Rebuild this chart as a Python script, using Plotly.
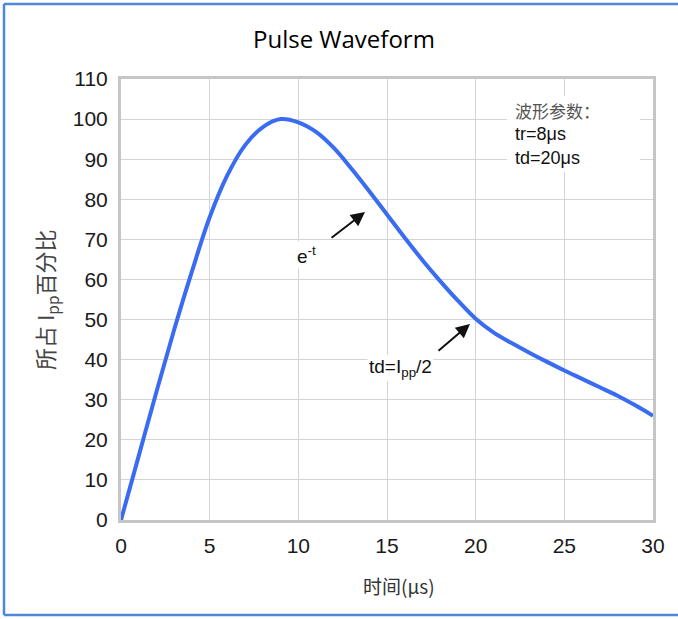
import plotly.graph_objects as go

# ---- data ----
time_us = [0, 1, 2, 3, 4, 5, 6, 7, 8, 9, 10, 11, 12, 13, 14, 15, 16, 17, 18, 19,
           20, 21, 22, 23, 24, 25, 26, 27, 28, 29, 30]
percent_ipp = [0, 16, 32, 47.5, 62, 75.5, 86, 93.5, 98, 100, 99.2, 96.8, 92.8, 87.6, 82, 76.2,
               70.4, 64.8, 59.6, 54.7, 50.2, 46.8, 44.2, 41.8, 39.5, 37.3, 35.2, 33.1, 31, 28.6, 26]
x_ticks = [0, 5, 10, 15, 20, 25, 30]
y_ticks = list(range(0, 111, 10))

title_text = "Pulse Waveform"
x_title = "时间(μs)"
y_title = "所占 I<sub>pp</sub>百分比"
param_lines = ["波形参数：", "tr=8μs", "td=20μs"]

W, H = 678, 619
L, R, T, B = 121, 653, 79, 520  # plot area in pixels


def px(x):
    return (x - L) / (R - L)


def py(y):
    return (B - y) / (B - T)


fig = go.Figure()
fig.add_trace(go.Scatter(
    x=time_us, y=percent_ipp, mode="lines",
    line=dict(color="#3a6cf2", width=4, shape="spline", smoothing=1.0),
    hoverinfo="skip", showlegend=False, cliponaxis=False,
))

axis_common = dict(
    showline=True, linecolor="#c6c6c6", linewidth=3, mirror=True,
    showgrid=True, gridcolor="#d4d4d4", gridwidth=1,
    zeroline=False, ticks="", tickfont=dict(family="Liberation Sans, Arial", size=21, color="#1a1a1a"),
)

fig.update_xaxes(range=[0, 30], tickvals=x_ticks, ticklabelstandoff=5, **axis_common)
fig.update_yaxes(range=[0, 110], tickvals=y_ticks, ticklabelstandoff=6, **axis_common)

annotations = []
# title
annotations.append(dict(text=title_text, xref="paper", yref="paper", x=px(344), y=py(38),
                        showarrow=False, xanchor="center", yanchor="middle",
                        font=dict(family="Open Sans", size=24, color="#000000")))
# axis titles
annotations.append(dict(text=x_title, xref="paper", yref="paper", x=px(399), y=py(585),
                        showarrow=False, xanchor="center", yanchor="middle",
                        font=dict(family="Noto Sans CJK SC, Liberation Sans", size=19, color="#333333")))
annotations.append(dict(text=y_title, xref="paper", yref="paper", x=px(45), y=py(300),
                        showarrow=False, xanchor="center", yanchor="middle", textangle=-90,
                        font=dict(family="Noto Sans CJK SC, Liberation Sans", size=22, color="#444444")))
# parameter box lines
param_y = [110, 134, 158]
param_colors = ["#555555", "#111111", "#111111"]
param_fonts = ["Noto Sans CJK SC", "Liberation Sans, Arial", "Liberation Sans, Arial"]
param_sizes = [17, 18, 18]
for txt, yy, cc, ff, ss in zip(param_lines, param_y, param_colors, param_fonts, param_sizes):
    annotations.append(dict(text=txt, xref="paper", yref="paper", x=px(513), y=py(yy),
                            showarrow=False, xanchor="left", yanchor="middle",
                            font=dict(family=ff, size=ss, color=cc)))
# arrows
annotations.append(dict(text="", x=13.76, y=76.8, ax=11.79, ay=70.1, xref="x", yref="y",
                        axref="x", ayref="y", showarrow=True, arrowhead=2, arrowsize=1.4,
                        arrowwidth=2, arrowcolor="#111111"))
annotations.append(dict(text="", x=19.68, y=48.9, ax=17.82, ay=41.9, xref="x", yref="y",
                        axref="x", ayref="y", showarrow=True, arrowhead=2, arrowsize=1.4,
                        arrowwidth=2, arrowcolor="#111111"))
# arrow labels
annotations.append(dict(text="e<sup>-t</sup>", xref="paper", yref="paper", x=px(306), y=py(255),
                        showarrow=False, xanchor="center", yanchor="middle", bgcolor="white",
                        font=dict(family="Liberation Sans, Arial", size=19, color="#111111")))
annotations.append(dict(text="td=I<sub>pp</sub>/2", xref="paper", yref="paper", x=px(400), y=py(368),
                        showarrow=False, xanchor="center", yanchor="middle", bgcolor="white",
                        font=dict(family="Liberation Sans, Arial", size=19, color="#111111")))

shapes = [
    # white box behind the parameter text (hides gridlines)
    dict(type="rect", xref="paper", yref="paper", x0=px(507), x1=px(640), y0=py(172), y1=py(96),
         fillcolor="white", line=dict(width=0), layer="above"),
    # blue frame (top, left, bottom)
    dict(type="line", xref="paper", yref="paper", x0=px(4), x1=px(680), y0=py(4), y1=py(4),
         line=dict(color="#4f88d8", width=2.5)),
    dict(type="line", xref="paper", yref="paper", x0=px(4), x1=px(4), y0=py(4), y1=py(615),
         line=dict(color="#4f88d8", width=2.5)),
    dict(type="line", xref="paper", yref="paper", x0=px(4), x1=px(680), y0=py(615), y1=py(615),
         line=dict(color="#4f88d8", width=2.5)),
]

fig.update_layout(
    width=W, height=H,
    margin=dict(l=L, r=W - R, t=T, b=H - B, pad=0),
    paper_bgcolor="white", plot_bgcolor="white",
    showlegend=False,
    annotations=annotations, shapes=shapes,
)

fig.write_html("out.html", config={"displayModeBar": False},
               post_script="document.body.style.margin='0';document.body.style.overflow='hidden';")
